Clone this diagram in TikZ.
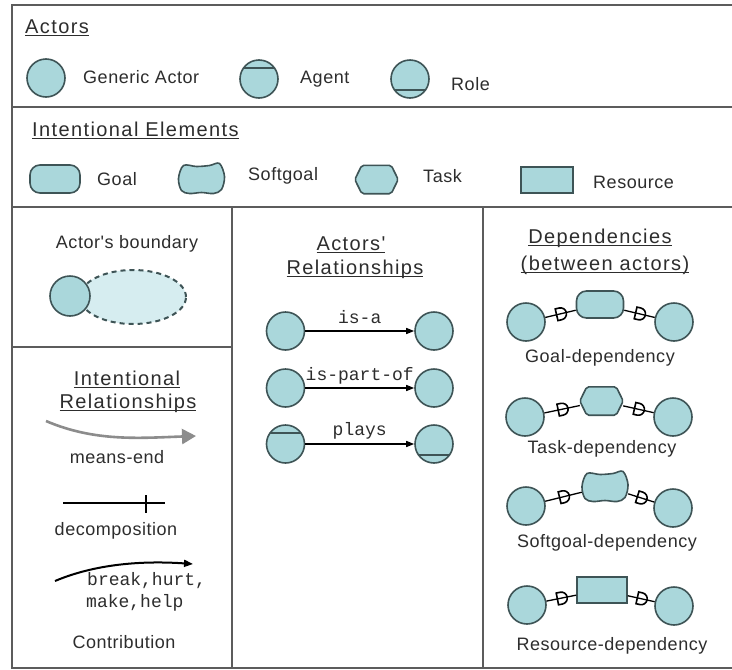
\documentclass[tikz,border=0pt]{standalone}
\usepackage{fontspec}
\setmainfont{Liberation Sans}
\newfontfamily\labfont{Liberation Sans}[LetterSpace=3]
\newfontfamily\headfont{Liberation Sans}[LetterSpace=7]
\newfontfamily\codefont{Liberation Mono}
\usetikzlibrary{arrows.meta,shapes.geometric}

\definecolor{actfill}{RGB}{170,215,219}
\definecolor{bndfill}{RGB}{214,237,240}
\definecolor{shapeline}{RGB}{62,84,86}
\definecolor{framec}{RGB}{92,92,92}
\definecolor{txt}{RGB}{45,45,45}
\definecolor{meansc}{RGB}{140,140,140}

% underlined heading text
\newcommand\ulx[1]{\setbox0=\hbox{#1}\rlap{\rule[-3pt]{\wd0}{1.3pt}}\box0}

\tikzset{
  frame/.style={draw=framec, line width=2pt},
  elem/.style={draw=shapeline, fill=actfill, line width=1.6pt},
  actor/.style={elem, circle, minimum size=38pt, inner sep=0pt},
  agent/.style={actor, path picture={\draw[shapeline, line width=1.6pt]
      ([yshift=-8pt]path picture bounding box.north west) --
      ([yshift=-8pt]path picture bounding box.north east);}},
  role/.style={actor, path picture={\draw[shapeline, line width=1.6pt]
      ([yshift=8pt]path picture bounding box.south west) --
      ([yshift=8pt]path picture bounding box.south east);}},
  goalbox/.style={elem, rectangle, rounded corners=10pt, minimum width=47pt,
      minimum height=27pt, inner sep=0pt},
  resbox/.style={elem, rectangle, minimum width=50pt, minimum height=26pt, inner sep=0pt},
  lab/.style={font=\labfont\fontsize{18}{21}\selectfont, text=txt, inner sep=0pt},
  head/.style={font=\headfont\fontsize{20}{24}\selectfont, text=txt, inner sep=0pt},
  code/.style={font=\codefont\fontsize{18}{21}\selectfont, text=txt, inner sep=0pt},
  rel/.style={draw=black, line width=1.4pt, -{Triangle[length=8pt,width=6pt]}},
  dep/.style={draw=black, line width=1.3pt},
  taskpic/.pic={
    \node[minimum width=43pt, minimum height=28pt, inner sep=0pt] (-n) {};
    \filldraw[elem, rounded corners=2pt] (-n.west) -- ([xshift=7pt]-n.north west)
      -- ([xshift=-7pt]-n.north east) -- (-n.east) -- ([xshift=-7pt]-n.south east)
      -- ([xshift=7pt]-n.south west) -- cycle;},
  softpic/.pic={
    \node[minimum width=46pt, minimum height=33pt, inner sep=0pt] (-n) {};
    \filldraw[elem] plot[smooth cycle, tension=0.55] coordinates {
      (-18,-13) (-5,-12) (8,-13) (18,-15) (23,-2) (20,11) (12,15) (0,14)
      (-12,15) (-20,12) (-23,0)};},
  dmark/.pic={
    \draw[black, line width=1.6pt] (-4,-6) -- (-4,6) -- (0,6)
      arc[start angle=90, end angle=-90, radius=6] -- cycle;}
}

\begin{document}
\begin{tikzpicture}[x=1pt, y=-1pt]
\useasboundingbox (0,0) rectangle (732,670);
\fill[white] (0,0) rectangle (732,670);

% frame and dividers
\draw[frame] (745,5) -- (12,5) -- (12,668) -- (745,668);
\draw[frame] (12,107) -- (745,107);
\draw[frame] (12,207) -- (745,207);
\draw[frame] (232,207) -- (232,668);
\draw[frame] (483,207) -- (483,668);
\draw[frame] (12,347) -- (232,347);

% Actors
\node[head, anchor=base west] (hact) at (25,33) {\ulx{Actors}};
\node[actor] (genact) at (46,78) {};
\node[lab, anchor=base west] (tgen) at (83,83) {Generic Actor};
\node[agent] (agentleg) at (259,79) {};
\node[lab, anchor=base west] (tagent) at (300,83) {Agent};
\node[role] (roleleg) at (410,79) {};
\node[lab, anchor=base west] (trole) at (451,90) {Role};

% Intentional elements
\node[head, anchor=base west] (hie) at (32,136) {\ulx{Intentional Elements}};
\node[goalbox, minimum width=50pt, minimum height=28pt] (goalleg) at (55,179) {};
\node[lab, anchor=base west] (tgoal) at (97,185) {Goal};
\pic (softleg) at (201.5,178.5) {softpic};
\node[lab, anchor=base west] (tsoft) at (248,180) {Softgoal};
\pic (taskleg) at (376.5,179.5) {taskpic};
\node[lab, anchor=base west] (ttask) at (423,182) {Task};
\node[resbox, minimum width=52pt] (resleg) at (547,180) {};
\node[lab, anchor=base west] (tres) at (593,188) {Resource};

% Actor's boundary
\node[lab, anchor=base] (tbnd) at (127,248) {Actor's boundary};
\node[draw=shapeline, fill=bndfill, dashed, dash pattern=on 5pt off 4pt,
      line width=2pt, ellipse, minimum width=106pt, minimum height=54pt,
      inner sep=0pt] (bnd) at (133,297) {};
\node[actor, minimum size=40pt] (bndact) at (70,296) {};

% Intentional relationships
\node[head, anchor=base] (hir1) at (127,385) {\ulx{Intentional}};
\node[head, anchor=base] (hir2) at (128,408) {\ulx{Relationships}};
\coordinate (me1) at (46,421);
\coordinate (me2) at (196,436);
\draw[meansc, line width=2.6pt, -{Triangle[length=14pt,width=15pt]}]
  (me1) .. controls (95,442) and (140,438) .. (me2);
\node[lab, anchor=base] (tme) at (117,463) {means-end};
\coordinate (dc1) at (63,503);
\coordinate (dc2) at (165,503);
\coordinate (dct) at (146,503);
\draw[black, line width=1.5pt] (dc1) -- (dc2);
\draw[black, line width=1.5pt] ([yshift=8pt]dct) -- ([yshift=-10pt]dct);
\node[lab, anchor=base] (tdc) at (116,535) {decomposition};
\coordinate (ct1) at (55,581);
\coordinate (ct2) at (193,564);
\draw[black, line width=2pt, -{Triangle[length=9pt,width=7pt]}]
  (ct1) .. controls (100,562) and (150,561) .. (ct2);
\node[code, anchor=base west] (tct1) at (87,585) {break,hurt,};
\node[code, anchor=base west] (tct2) at (86,607) {make,help};
\node[lab, anchor=base] (tct) at (124,648) {Contribution};

% Actors' relationships
\node[head, anchor=base] (har1) at (351,250) {\ulx{Actors'}};
\node[head, anchor=base] (har2) at (355,274) {\ulx{Relationships}};
\node[actor] (isa1) at (285.5,331) {};
\node[actor] (isa2) at (434,331) {};
\draw[rel] (isa1) -- (isa2) node[code, pos=0.5, anchor=base, yshift=8pt] {is-a};
\node[actor] (ipo1) at (285.5,388) {};
\node[actor] (ipo2) at (434,388) {};
\draw[rel] (ipo1) -- (ipo2) node[code, pos=0.5, anchor=base, yshift=8pt] {is-part-of};
\node[agent] (pl1) at (285.5,444) {};
\node[role] (pl2) at (434,444) {};
\draw[rel] (pl1) -- (pl2) node[code, pos=0.5, anchor=base, yshift=9pt] {plays};

% Dependencies
\node[head, anchor=base] (hd1) at (600,243) {\ulx{Dependencies}};
\node[head, anchor=base] (hd2) at (605,270) {\ulx{(between actors)}};

\node[actor] (gdl) at (526,322) {};
\node[goalbox] (gd) at (600,304.5) {};
\node[actor] (gdr) at (674,322) {};
\draw[dep] (gdl) -- (gd) pic[pos=0.5, sloped] {dmark};
\draw[dep] (gd) -- (gdr) pic[pos=0.5, sloped] {dmark};
\node[lab, anchor=base] (tgd) at (600,362) {Goal-dependency};

\node[actor] (tdl) at (525,417) {};
\pic (td) at (601.5,401) {taskpic};
\node[actor] (tdr) at (673,417) {};
\draw[dep] (tdl) -- (td-n) pic[pos=0.5, sloped] {dmark};
\draw[dep] (td-n) -- (tdr) pic[pos=0.5, sloped] {dmark};
\node[lab, anchor=base] (ttd) at (602,453) {Task-dependency};

\node[actor] (sdl) at (526,506) {};
\pic (sd) at (605,486.5) {softpic};
\node[actor] (sdr) at (673,508) {};
\draw[dep] (sdl) -- (sd-n) pic[pos=0.5, sloped] {dmark};
\draw[dep] (sd-n) -- (sdr) pic[pos=0.5, sloped] {dmark};
\node[lab, anchor=base] (tsd) at (607,547) {Softgoal-dependency};

\node[actor] (rdl) at (527,605) {};
\node[resbox] (rd) at (602,590) {};
\node[actor] (rdr) at (674,606) {};
\draw[dep] (rdl) -- (rd) pic[pos=0.5, sloped] {dmark};
\draw[dep] (rd) -- (rdr) pic[pos=0.5, sloped] {dmark};
\node[lab, anchor=base] (trd) at (612,650) {Resource-dependency};
\end{tikzpicture}
\end{document}
